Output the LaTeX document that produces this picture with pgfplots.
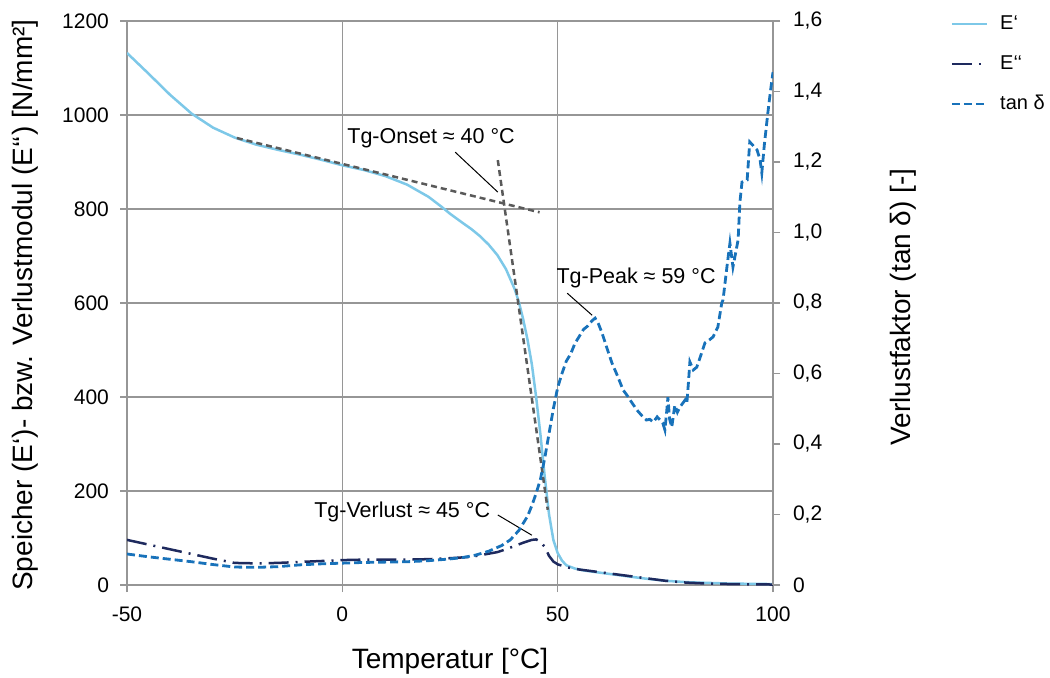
\documentclass[border=0pt]{standalone}
\usepackage{pgfplots}
\pgfplotsset{compat=1.18}
\usepackage{fontspec}
\setmainfont{Liberation Sans}
\definecolor{eprime}{RGB}{125,200,232}
\definecolor{edprime}{RGB}{30,42,94}
\definecolor{tand}{RGB}{24,114,186}
\definecolor{tang}{RGB}{90,90,90}
\definecolor{gridc}{RGB}{150,150,150}
\begin{document}
\begin{tikzpicture}
\path[use as bounding box] (0,0) rectangle (525pt,338.5pt);
\begin{axis}[
  at={(63.5pt,46pt)}, anchor=south west,
  scale only axis, width=323pt, height=282pt,
  xmin=-50, xmax=100, ymin=0, ymax=1200,
  xtick={-50,0,50,100}, xticklabels={-50,0,50,100},
  ytick={0,200,400,600,800,1000,1200},
  grid=major, grid style={gridc, line width=0.75pt},
  axis line style={gridc, line width=0.75pt},
  tick style={gridc, line width=0.75pt},
  tick align=outside, major tick length=3.5pt,
  xtick pos=left, ytick pos=left,
  /pgf/number format/assume math mode=true,
  /pgf/number format/1000 sep={},
  ticklabel style={font=\fontsize{10.5}{12}\selectfont},
  xticklabel style={yshift=-4pt},
  yticklabel style={xshift=-2pt},
  xlabel={Temperatur [°C]},
  xlabel style={at={(axis description cs:0.5,0)}, anchor=center, yshift=-38pt, font=\fontsize{14}{16}\selectfont},
  ylabel={Speicher (E‘)- bzw. Verlustmodul (E‘‘) [N/mm²]},
  ylabel style={at={(axis description cs:-0.158,0.4965)}, anchor=center, font=\fontsize{14}{16}\selectfont},
]
% E'
\addplot[eprime, line width=1.25pt] coordinates {
(-50,1132) (-45,1088) (-40,1043) (-35,1003) (-30,973) (-25,952) (-20,937) (-15,926)
(-10,916) (-5,905) (0,893) (5,883) (10,870) (15,852) (20,826) (23,805) (25,790)
(28,770) (30,757) (32,742) (34,724) (36,702) (38,672) (40,630) (41,602) (42,565) (43,522)
(44,470) (45,400) (46,320) (47,230) (48,150) (49,96) (50,68) (51,52) (52,42)
(54,35) (56,31) (60,26) (65,20) (70,14) (75,9) (80,6) (90,3) (100,2)
};
% E''
\addplot[edprime, line width=1.25pt, dash pattern=on 10pt off 3.5pt on 1pt off 3.5pt] coordinates {
(-50,96) (-45,86) (-40,76) (-35,66) (-30,56) (-25,47) (-20,46) (-15,47) (-10,49)
(-5,51) (0,53) (5,54) (10,54) (15,54) (20,55) (25,57) (30,60) (33,65) (36,70)
(38,76) (40,83) (42,90) (44,96) (45,97) (46,92) (47,81) (48,62) (49,50) (50,44)
(52,38) (55,33) (60,27) (65,21) (70,15) (75,9) (80,5) (85,3) (90,2) (100,1)
};
% tangents
\addplot[tang, line width=1.25pt, dash pattern=on 3pt off 2pt] coordinates {(-24.5,951) (45.8,793)};
\addplot[tang, line width=1.25pt, dash pattern=on 3pt off 2pt] coordinates {(36.1,904) (47.7,160)};
% annotations
\begin{scope}[font=\fontsize{10.75}{12}\selectfont]
\node at (axis cs:20.6,951) {Tg-Onset ≈ 40 °C};
\node at (axis cs:68.2,653) {Tg-Peak ≈ 59 °C};
\node at (axis cs:13.9,155) {Tg-Verlust ≈ 45 °C};
\end{scope}
\draw[black, line width=0.5pt] (axis cs:26.2,921) -- (axis cs:36.1,836);
\draw[black, line width=0.5pt] (axis cs:52.2,621) -- (axis cs:58.0,574);
\draw[black, line width=0.5pt] (axis cs:36.1,149) -- (axis cs:44.0,106);
\end{axis}
\begin{axis}[
  at={(63.5pt,46pt)}, anchor=south west,
  scale only axis, width=323pt, height=282pt,
  xmin=-50, xmax=100, ymin=0, ymax=1.6,
  axis x line=none, axis y line*=right,
  ytick={0,0.2,0.4,0.6,0.8,1.0,1.2,1.4,1.6},
  yticklabels={0,{0,2},{0,4},{0,6},{0,8},{1,0},{1,2},{1,4},{1,6}},
  axis line style={gridc, line width=0.75pt},
  tick style={gridc, line width=0.75pt},
  tick align=outside, major tick length=3.5pt,
  ticklabel style={font=\fontsize{10.5}{12}\selectfont},
  yticklabel style={xshift=3pt},
  ylabel={Verlustfaktor (tan δ) [-]},
  ylabel style={at={(axis description cs:1.2012,0.493)}, anchor=center, font=\fontsize{14}{16}\selectfont},
  legend style={draw=none, fill=none, at={(axis description cs:1.274,1.017)}, anchor=north west,
    font=\fontsize{10}{11}\selectfont, row sep=7.5pt, inner sep=0pt, cells={anchor=west},
    /tikz/every odd column/.style={column sep=4pt}},
  legend image code/.code={\draw[#1] (0pt,0pt) -- (17.5pt,0pt);},
]
\addlegendimage{eprime, line width=1.25pt}
\addlegendentry{E‘}
\addlegendimage{edprime, line width=1.25pt, dash pattern=on 10pt off 3.5pt on 1pt off 3.5pt}
\addlegendentry{E‘‘}
\addplot[tand, line width=1.4pt, dash pattern=on 4pt off 2pt] coordinates {
(-50,0.088) (-45,0.080) (-40,0.073) (-35,0.066) (-30,0.058) (-25,0.051) (-20,0.050)
(-15,0.052) (-10,0.057) (-5,0.060) (0,0.062) (5,0.064) (10,0.065) (15,0.066)
(20,0.069) (25,0.074) (28,0.078) (31,0.085) (34,0.096) (37,0.112) (39,0.128)
(41,0.155) (43,0.195) (44,0.225) (45,0.26) (46,0.30) (47,0.36) (48,0.43) (49,0.50)
(50,0.56) (51,0.60) (52,0.635) (53,0.655) (54,0.685) (55,0.705) (56,0.725)
(57,0.735) (58,0.75) (58.7,0.757) (59.5,0.74) (60.3,0.715) (61.5,0.67) (62.6,0.63)
(64,0.59) (65.2,0.553) (66.3,0.535) (67.3,0.516) (68.5,0.495) (69.8,0.477)
(70.6,0.468) (71.4,0.47) (72.2,0.462) (73.1,0.477) (74.0,0.465) (74.4,0.46)
(74.9,0.44) (75.3,0.49) (75.6,0.533) (76.0,0.47) (76.5,0.448) (77.2,0.51)
(77.8,0.49) (78.4,0.505) (79.0,0.515) (79.6,0.525) (80.0,0.516) (80.4,0.58)
(80.7,0.633) (81.5,0.61) (82.3,0.618) (83.2,0.65) (84.2,0.687) (85.2,0.695)
(86.1,0.704) (87.2,0.732) (88.1,0.80) (88.4,0.809) (89.3,0.902) (90.0,0.970)
(90.7,0.902) (91.9,0.979) (92.3,1.084) (92.8,1.143) (94.0,1.149) (94.6,1.257)
(95.5,1.245) (96.3,1.234) (97.0,1.206) (97.4,1.169) (98.0,1.25) (98.8,1.339)
(99.4,1.40) (100,1.455)
};
\addlegendentry{tan δ}
\end{axis}
\end{tikzpicture}
\end{document}
